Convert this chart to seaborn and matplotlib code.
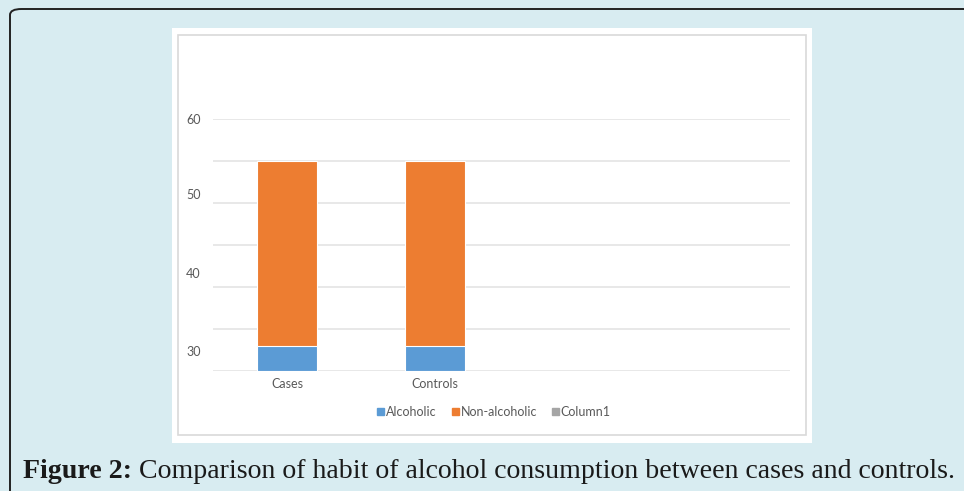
import matplotlib
matplotlib.use("Agg")
import matplotlib.pyplot as plt
import matplotlib.patches as mpatches
import pandas as pd
import seaborn as sns

# datos
categories = ["Cases", "Controls"]
alcoholic = [6, 6]
non_alcoholic = [44, 44]
series_names = ["Alcoholic", "Non-alcoholic", "Column1"]
ytick_labels = ["30", "40", "50", "60"]
ytick_label_pos = [4.8, 23.3, 42.2, 60]   # las etiquetas no caen sobre las lineas de la rejilla
caption_bold = "Figure 2:"
caption_text = " Comparison of habit of alcohol consumption between cases and controls."

colors = {"Alcoholic": "#5B9BD5", "Non-alcoholic": "#ED7D31", "Column1": "#A5A5A5"}
txt_col = "#595959"
bg = "#D8ECF1"

df = pd.DataFrame({"cat": categories, "alc": alcoholic, "non": non_alcoholic})
df["total"] = df["alc"] + df["non"]

sns.set_style("white")
plt.rcParams["font.family"] = ["Lato", "DejaVu Sans"]

W, H = 964, 491
fig = plt.figure(figsize=(W / 100, H / 100), dpi=100, facecolor=bg)

def fx(px):
    return px / W

def fy(py):
    return 1 - py / H

# marco redondeado exterior
frame = mpatches.FancyBboxPatch((fx(10), fy(700)), fx(1200), fy(9) - fy(700),
                                boxstyle="round,pad=0,rounding_size=0.012",
                                transform=fig.transFigure, facecolor=bg,
                                edgecolor="#222222", linewidth=1.4, zorder=0)
fig.patches.append(frame)

# panel blanco del grafico
fig.patches.append(mpatches.Rectangle((fx(172), fy(443)), fx(812 - 172), fy(28) - fy(443),
                                      transform=fig.transFigure, facecolor="white",
                                      edgecolor="none", zorder=1))
fig.patches.append(mpatches.Rectangle((fx(178), fy(435)), fx(806 - 178), fy(35) - fy(435),
                                      transform=fig.transFigure, facecolor="none",
                                      edgecolor="#D9D9D9", linewidth=1.2, zorder=2))

ax = fig.add_axes([fx(213), fy(371), fx(790 - 213), fy(119) - fy(371)])
ax.set_facecolor("none")
ax.set_zorder(3)

sns.barplot(data=df, x="cat", y="total", color=colors["Non-alcoholic"], width=0.4,
            saturation=1, edgecolor="white", linewidth=0.8, ax=ax, zorder=3)
sns.barplot(data=df, x="cat", y="alc", color=colors["Alcoholic"], width=0.4,
            saturation=1, edgecolor="white", linewidth=0.8, ax=ax, zorder=4)

ax.set_xlim(-0.5, 3.4)
ax.set_ylim(0, 60)
ax.yaxis.remove_overlapping_locs = False
ax.set_yticks(range(0, 61, 10))
ax.set_yticklabels([])
ax.set_yticks(ytick_label_pos, ytick_labels, minor=True)
ax.grid(axis="y", which="major", color="#E6E6E6", linewidth=1.3)
ax.set_axisbelow(True)
ax.tick_params(axis="y", which="both", length=0, labelsize=9, labelcolor=txt_col, pad=9)
ax.tick_params(axis="x", length=0, labelsize=9, labelcolor=txt_col, pad=5)
ax.set_xlabel("")
ax.set_ylabel("")
for s in ax.spines.values():
    s.set_visible(False)

handles = [mpatches.Patch(color=colors[n], label=n) for n in series_names]
leg = fig.legend(handles=handles, loc="center", bbox_to_anchor=(fx(494), fy(412)),
                 ncol=3, frameon=False, fontsize=9, handlelength=0.55, handleheight=0.55,
                 handletextpad=0.15, columnspacing=1.2)
for t in leg.get_texts():
    t.set_color(txt_col)

# pie de figura
t1 = fig.text(fx(23), fy(478), caption_bold, fontsize=20.1, fontweight="bold",
              family="Liberation Serif", color="#1a1a1a", va="baseline")
fig.canvas.draw()
bb = t1.get_window_extent()
fig.text(bb.x1 / W, fy(478), caption_text, fontsize=20.1,
         family="Liberation Serif", color="#1a1a1a", va="baseline")

fig.savefig("out.png", dpi=100, facecolor=bg)
